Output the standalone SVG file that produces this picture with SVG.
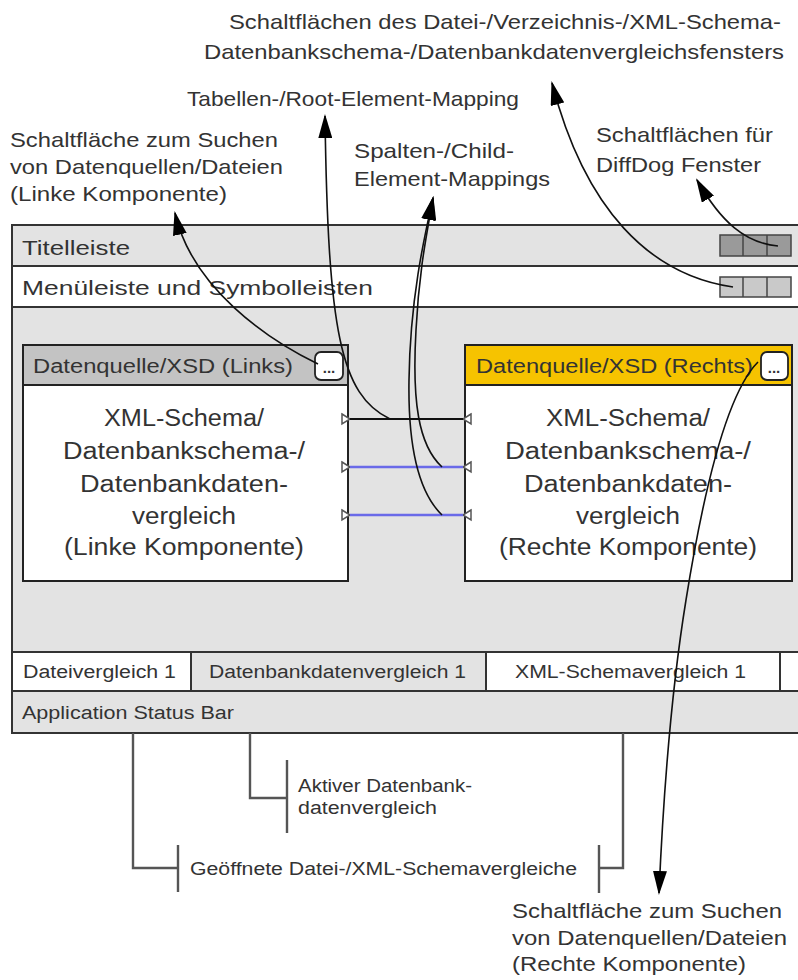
<svg xmlns="http://www.w3.org/2000/svg" width="798" height="980" viewBox="0 0 798 980">
<style>
text{font-family:"Liberation Sans",Arial,sans-serif;fill:#333}
.lbl{font-size:21px}
.bar{font-size:21px}
.tab{font-size:18px}
.body{font-size:23px;text-anchor:middle}
.hdr{font-size:20px}
.frame{stroke:#333;stroke-width:2}
.cmp{stroke:#222;stroke-width:2}
.conn{fill:none;stroke:#111;stroke-width:1.6}
.brk{fill:none;stroke:#555;stroke-width:2.4}
.port{fill:#fff;stroke:#555;stroke-width:1.5}
.btn{fill:#fff;stroke:#222;stroke-width:1.8}
.dots{font-size:15px;font-weight:bold;text-anchor:middle}
</style>
<defs>
<marker id="ah" markerUnits="userSpaceOnUse" markerWidth="24" markerHeight="14" viewBox="0 0 24 14" refX="22" refY="7" orient="auto">
<path d="M0,0 L24,7 L0,14 Z" fill="#000"/>
</marker>
</defs>
<rect width="798" height="980" fill="#fff"/>

<g id="window">
<rect x="12" y="225" width="800" height="508" fill="#e3e3e3" class="frame"/>
</g>
<g id="titlebar">
<rect x="12" y="225" width="800" height="41" fill="#e3e3e3" class="frame"/>
<text class="bar" x="22" y="255" textLength="108" lengthAdjust="spacingAndGlyphs">Titelleiste</text>
<rect x="720" y="235" width="71" height="21" fill="#9a9a9a" stroke="#444" stroke-width="1.5"/>
<line x1="743" y1="235" x2="743" y2="256" stroke="#444" stroke-width="1.5"/>
<line x1="767" y1="235" x2="767" y2="256" stroke="#444" stroke-width="1.5"/>
</g>
<g id="menubar">
<rect x="12" y="266" width="800" height="41" fill="#fff" class="frame"/>
<text class="bar" x="22" y="295" textLength="351" lengthAdjust="spacingAndGlyphs">Menüleiste und Symbolleisten</text>
<rect x="720" y="277" width="71" height="20" fill="#c9c9c9" stroke="#444" stroke-width="1.5"/>
<line x1="743" y1="277" x2="743" y2="297" stroke="#444" stroke-width="1.5"/>
<line x1="767" y1="277" x2="767" y2="297" stroke="#444" stroke-width="1.5"/>
</g>

<g id="left-component">
<rect x="23" y="345" width="325" height="236" fill="#fff" class="cmp"/>
<rect x="23" y="345" width="325" height="40" fill="#c3c3c3" class="cmp"/>
<text class="hdr" x="33" y="373" textLength="260" lengthAdjust="spacingAndGlyphs">Datenquelle/XSD (Links)</text>
<rect x="315" y="352" width="28" height="28" rx="6" class="btn"/>
<text class="dots" x="329" y="373">...</text>
<text class="body" x="184" y="426" textLength="160" lengthAdjust="spacingAndGlyphs">XML-Schema/</text>
<text class="body" x="184" y="459" textLength="242" lengthAdjust="spacingAndGlyphs">Datenbankschema-/</text>
<text class="body" x="184" y="492" textLength="208" lengthAdjust="spacingAndGlyphs">Datenbankdaten-</text>
<text class="body" x="184" y="524" textLength="104" lengthAdjust="spacingAndGlyphs">vergleich</text>
<text class="body" x="184" y="555" textLength="240" lengthAdjust="spacingAndGlyphs">(Linke Komponente)</text>
<path class="port" d="M342,414 L350,419 L342,424 Z"/>
<path class="port" d="M342,462 L350,467 L342,472 Z"/>
<path class="port" d="M342,510 L350,515 L342,520 Z"/>
</g>

<g id="right-component">
<rect x="465" y="345" width="327" height="236" fill="#fff" class="cmp"/>
<rect x="465" y="345" width="327" height="40" fill="#f6c300" class="cmp"/>
<text class="hdr" x="476" y="373" textLength="277" lengthAdjust="spacingAndGlyphs">Datenquelle/XSD (Rechts)</text>
<rect x="761" y="352" width="27" height="28" rx="6" class="btn"/>
<text class="dots" x="774" y="373">...</text>
<text class="body" x="628" y="426" textLength="164" lengthAdjust="spacingAndGlyphs">XML-Schema/</text>
<text class="body" x="628" y="459" textLength="246" lengthAdjust="spacingAndGlyphs">Datenbankschema-/</text>
<text class="body" x="628" y="492" textLength="208" lengthAdjust="spacingAndGlyphs">Datenbankdaten-</text>
<text class="body" x="628" y="524" textLength="104" lengthAdjust="spacingAndGlyphs">vergleich</text>
<text class="body" x="628" y="555" textLength="258" lengthAdjust="spacingAndGlyphs">(Rechte Komponente)</text>
<path class="port" d="M471,414 L463,419 L471,424 Z"/>
<path class="port" d="M471,462 L463,467 L471,472 Z"/>
<path class="port" d="M471,510 L463,515 L471,520 Z"/>
</g>

<g id="tabs">
<rect x="12" y="652" width="800" height="39" fill="#fff" class="frame"/>
<rect x="191" y="652" width="295" height="39" fill="#e3e3e3" class="frame"/>
<line x1="780" y1="652" x2="780" y2="691" class="frame"/>
<text class="tab" x="23" y="678" textLength="153" lengthAdjust="spacingAndGlyphs">Dateivergleich 1</text>
<text class="tab" x="209" y="678" textLength="257" lengthAdjust="spacingAndGlyphs">Datenbankdatenvergleich 1</text>
<text class="tab" x="515" y="678" textLength="231" lengthAdjust="spacingAndGlyphs">XML-Schemavergleich 1</text>
</g>
<g id="statusbar">
<rect x="12" y="691" width="800" height="42" fill="#e3e3e3" class="frame"/>
<text class="tab" x="22" y="719" textLength="212" lengthAdjust="spacingAndGlyphs">Application Status Bar</text>
</g>

<g id="connectors">
<line x1="350" y1="419" x2="463" y2="419" stroke="#111" stroke-width="2"/>
<line x1="350" y1="467" x2="463" y2="467" stroke="#6a6ae8" stroke-width="2.5"/>
<line x1="350" y1="515" x2="463" y2="515" stroke="#6a6ae8" stroke-width="2.5"/>
<path class="conn" d="M318,364 C268,340 192,288 175,213" marker-end="url(#ah)"/>
<path class="conn" d="M390,419 C340,395 328,330 325,116" marker-end="url(#ah)"/>
<path class="conn" d="M442,467 C418,445 412,400 416,330 C419,270 427,233 433,198" marker-end="url(#ah)"/>
<path class="conn" d="M442,515 C416,490 408,440 409,380 C410,300 424,238 433,198" marker-end="url(#ah)"/>
<path class="conn" d="M733,287 C650,275 585,210 552,83" marker-end="url(#ah)"/>
<path class="conn" d="M778,246 C745,243 721,222 697,180" marker-end="url(#ah)"/>
<path class="conn" d="M758,362 C725,395 702,500 686,600 C673,680 664,780 659,893" marker-end="url(#ah)"/>
<path class="brk" d="M133,733 L133,868 L178,868 M178,845 L178,892"/>
<path class="brk" d="M623,733 L623,868 L599,868 M599,845 L599,893"/>
<path class="brk" d="M250,733 L250,798 L287,798 M287,760 L287,833"/>
</g>

<g id="labels">
<text class="lbl" x="229" y="29" textLength="552" lengthAdjust="spacingAndGlyphs">Schaltflächen des Datei-/Verzeichnis-/XML-Schema-</text>
<text class="lbl" x="204" y="59" textLength="580" lengthAdjust="spacingAndGlyphs">Datenbankschema-/Datenbankdatenvergleichsfensters</text>
<text class="lbl" x="187" y="106" textLength="332" lengthAdjust="spacingAndGlyphs">Tabellen-/Root-Element-Mapping</text>
<text class="lbl" x="10" y="147" textLength="268" lengthAdjust="spacingAndGlyphs">Schaltfläche zum Suchen</text>
<text class="lbl" x="10" y="174" textLength="273" lengthAdjust="spacingAndGlyphs">von Datenquellen/Dateien</text>
<text class="lbl" x="10" y="201" textLength="217" lengthAdjust="spacingAndGlyphs">(Linke Komponente)</text>
<text class="lbl" x="354" y="158" textLength="160" lengthAdjust="spacingAndGlyphs">Spalten-/Child-</text>
<text class="lbl" x="354" y="186" textLength="196" lengthAdjust="spacingAndGlyphs">Element-Mappings</text>
<text class="lbl" x="596" y="142" textLength="177" lengthAdjust="spacingAndGlyphs">Schaltflächen für</text>
<text class="lbl" x="596" y="172" textLength="165" lengthAdjust="spacingAndGlyphs">DiffDog Fenster</text>
<text class="tab" x="298" y="792" textLength="174" lengthAdjust="spacingAndGlyphs">Aktiver Datenbank-</text>
<text class="tab" x="298" y="814" textLength="139" lengthAdjust="spacingAndGlyphs">datenvergleich</text>
<text class="tab" x="190" y="875" textLength="387" lengthAdjust="spacingAndGlyphs">Geöffnete Datei-/XML-Schemavergleiche</text>
<text class="lbl" x="512" y="918" textLength="270" lengthAdjust="spacingAndGlyphs">Schaltfläche zum Suchen</text>
<text class="lbl" x="512" y="945" textLength="275" lengthAdjust="spacingAndGlyphs">von Datenquellen/Dateien</text>
<text class="lbl" x="512" y="971" textLength="234" lengthAdjust="spacingAndGlyphs">(Rechte Komponente)</text>
</g>
</svg>
